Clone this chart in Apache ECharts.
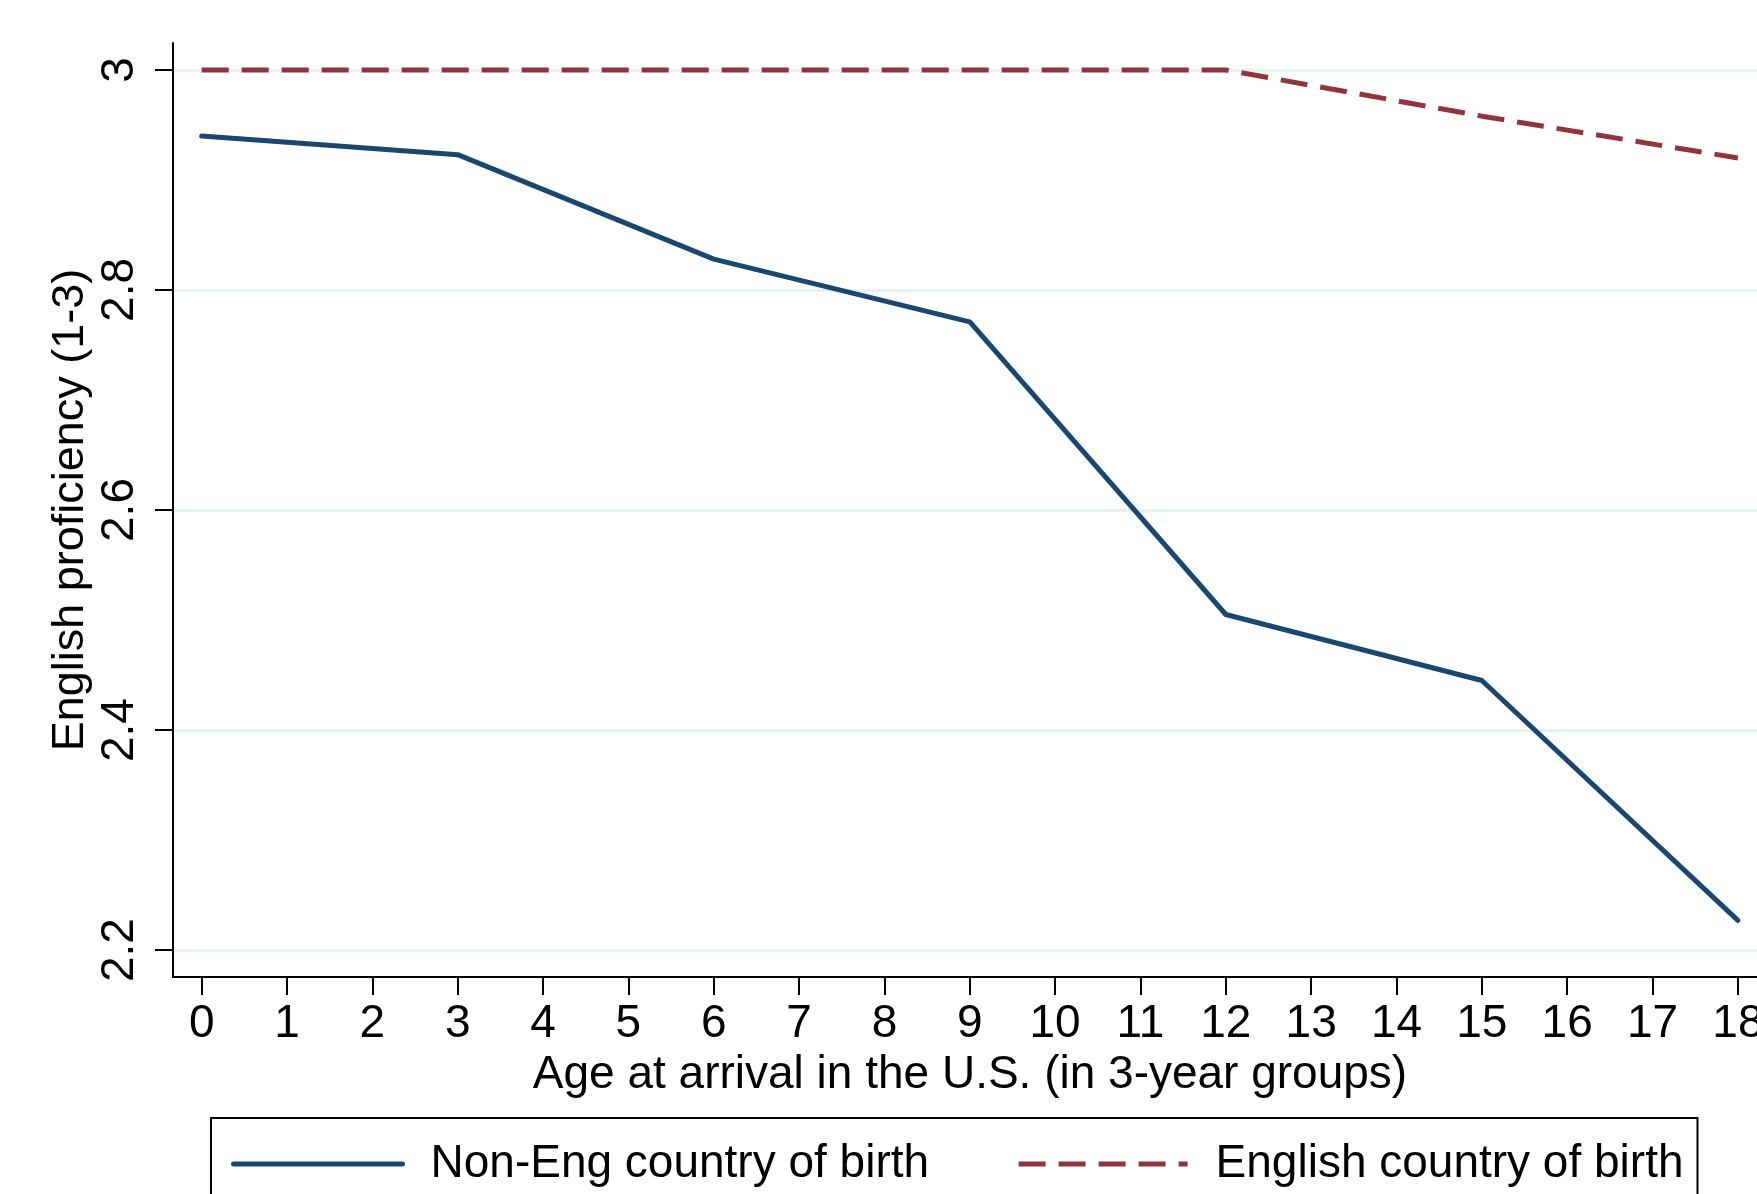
<!DOCTYPE html>
<html>
<head>
<meta charset="utf-8">
<script src="https://cdn.jsdelivr.net/npm/echarts@6/dist/echarts.min.js"></script>
<style>
html,body{margin:0;padding:0;background:#fff;}
#chart{width:1757px;height:1194px;}
</style>
</head>
<body>
<div id="chart"></div>
<script>
// Data
const ages = [0, 3, 6, 9, 12, 15, 18];
const nonEng = [2.940, 2.923, 2.828, 2.771, 2.505, 2.445, 2.227];
const english = [3.0, 3.0, 3.0, 3.0, 3.0, 2.958, 2.920];
const xTicks = [0,1,2,3,4,5,6,7,8,9,10,11,12,13,14,15,16,17,18];
const yTicks = [2.2, 2.4, 2.6, 2.8, 3];
const seriesNames = ['Non-Eng country of birth', 'English country of birth'];
const xTitle = 'Age at arrival in the U.S. (in 3-year groups)';
const yTitle = 'English proficiency (1-3)';

const FONT = '"Liberation Sans", Arial, Helvetica, sans-serif';
const blue = '#1a476f';
const red = '#90353b';

const chart = echarts.init(document.getElementById('chart'));
chart.setOption({
  backgroundColor: '#ffffff',
  animation: false,
  textStyle: { fontFamily: FONT },
  grid: { left: 173, top: 43, bottom: 217, right: 0, containLabel: false, outerBoundsMode: 'none' },
  xAxis: {
    type: 'value',
    min: -0.336, max: 18.224,
    name: xTitle,
    nameLocation: 'middle',
    nameGap: 72,
    nameTextStyle: { fontSize: 46, color: '#000', fontFamily: FONT, padding: [0, 0, 0, 10] },
    axisLine: { show: true, onZero: false, lineStyle: { color: '#000', width: 2 } },
    axisTick: { show: true, customValues: xTicks, length: 18, lineStyle: { color: '#000', width: 2 } },
    axisLabel: { customValues: xTicks, fontSize: 46, color: '#000', margin: 24, fontFamily: FONT,
                 hideOverlap: false, formatter: v => String(v) },
    splitLine: { show: false }
  },
  yAxis: {
    type: 'value',
    min: 2.1755, max: 3.0245,
    name: yTitle,
    nameLocation: 'middle',
    nameGap: 80,
    nameMoveOverlap: false,
    nameRotate: 90,
    nameTextStyle: { fontSize: 45, color: '#000', fontFamily: FONT },
    axisLine: { show: true, onZero: false, lineStyle: { color: '#000', width: 2 } },
    axisTick: { show: true, customValues: yTicks, length: 18, lineStyle: { color: '#000', width: 2 } },
    axisLabel: { customValues: yTicks, rotate: 90, fontSize: 46, color: '#000', margin: 30, fontFamily: FONT,
                 formatter: v => String(+v.toFixed(1)) },
    splitLine: { show: true, lineStyle: { color: '#e8f0f2', width: 3 } }
  },
  legend: {
    left: 211, top: 1118,
    orient: 'horizontal',
    itemWidth: 169, itemHeight: 46,
    itemGap: 87,
    padding: [23, 14, 40, 20],
    borderColor: '#000', borderWidth: 2,
    itemStyle: { opacity: 0 },
    lineStyle: { width: 5 },
    textStyle: { fontSize: 46, color: '#000', fontFamily: FONT, padding: [0, 0, 0, 23] },
    data: seriesNames
  },
  series: [
    {
      name: seriesNames[0], type: 'line',
      data: ages.map((a, i) => [a, nonEng[i]]),
      symbol: 'none', showSymbol: false,
      lineStyle: { color: blue, width: 5, cap: 'round', join: 'round' },
      itemStyle: { color: blue },
      z: 3
    },
    {
      name: seriesNames[1], type: 'line',
      data: ages.map((a, i) => [a, english[i]]),
      symbol: 'none', showSymbol: false,
      lineStyle: { color: red, width: 5, type: [27, 13] },
      itemStyle: { color: red },
      z: 3
    }
  ]
});
</script>
</body>
</html>
